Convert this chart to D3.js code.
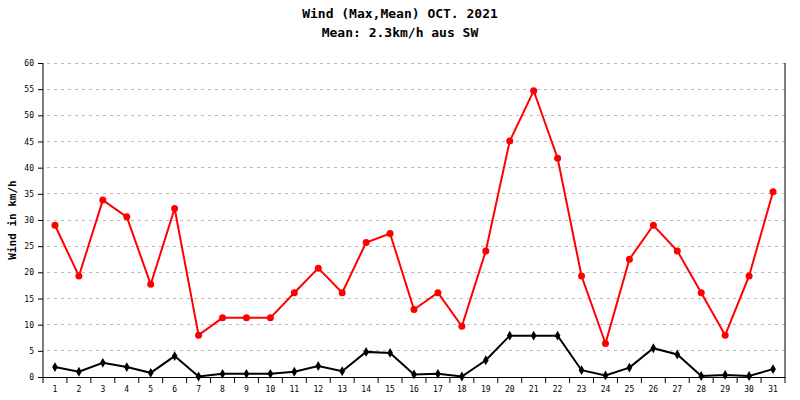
<!DOCTYPE html>
<html><head><meta charset="utf-8">
<script src="https://cdn.jsdelivr.net/npm/d3@7"></script>
<style>body{margin:0;background:#fff}svg{display:block}</style>
</head><body><svg id="c" width="800" height="400"></svg>
<script>
const days = d3.range(1, 32).map(String);
const maxWind = [29,19.3,33.8,30.6,17.7,32.2,8,11.3,11.3,11.3,16.1,20.8,16.1,25.7,27.4,12.9,16.1,9.7,24.1,45.1,54.7,41.8,19.3,6.4,22.5,29,24.1,16.1,8,19.3,35.4];
const meanWind = [1.9,1.0,2.7,1.9,0.8,4.0,0.1,0.6,0.6,0.6,1.0,2.1,1.1,4.8,4.6,0.5,0.6,0.1,3.2,7.9,7.9,7.9,1.3,0.3,1.8,5.5,4.3,0.2,0.4,0.2,1.5];
const yTicks = d3.range(0, 61, 5);

const svg = d3.select("#c");
const L = 43, R = 785, T = 63, B = 377;
const x = d3.scaleBand().domain(days).range([L, R]);
const y = d3.scaleLinear().domain([0, 60]).range([B, T]);
const font = "DejaVu Sans Mono, monospace";

svg.append("text").attr("x", 400).attr("y", 18).attr("text-anchor","middle")
  .attr("font-family", font).attr("font-size", 13).attr("font-weight","bold").text("Wind (Max,Mean) OCT. 2021");
svg.append("text").attr("x", 400).attr("y", 37).attr("text-anchor","middle")
  .attr("font-family", font).attr("font-size", 13).attr("font-weight","bold").text("Mean: 2.3km/h aus SW");

svg.append("g").selectAll("line").data(yTicks.filter(d=>d>0)).join("line")
  .attr("x1", L+4).attr("x2", R).attr("y1", d=>y(d)).attr("y2", d=>y(d))
  .attr("stroke","#bbb").attr("stroke-dasharray","3,4").attr("shape-rendering","crispEdges");

const ya = svg.append("g").attr("transform",`translate(${L},0)`)
  .call(d3.axisLeft(y).tickValues(yTicks).tickSize(5).tickPadding(4));
const xa = svg.append("g").attr("transform",`translate(0,${B})`)
  .call(d3.axisBottom(x).tickSize(0).tickPadding(9));
xa.selectAll(".tick").append("line").attr("x1", x.bandwidth()/2).attr("x2", x.bandwidth()/2)
  .attr("y1",0).attr("y2",6).attr("stroke","#000");
xa.append("line").attr("x1",L).attr("x2",L).attr("y1",0).attr("y2",6).attr("stroke","#000");
[ya, xa].forEach(g => { g.selectAll("text").attr("font-family", font).attr("font-size", 8).attr("fill","#000");
  g.select(".domain").attr("stroke","#000"); });
ya.select(".domain").attr("d", `M0,${B}V${T}`);
svg.append("line").attr("x1",R).attr("x2",R).attr("y1",T).attr("y2",B).attr("stroke","#000");

svg.append("text").attr("transform",`translate(16,${(T+B)/2}) rotate(-90)`).attr("text-anchor","middle")
  .attr("font-family", font).attr("font-size", 11).attr("font-weight","bold").text("Wind in km/h");

const cx = (d,i) => x(days[i]) + x.bandwidth()/2;
const line = d3.line().x(cx).y(d=>y(d));
svg.append("path").datum(maxWind).attr("d", line).attr("fill","none").attr("stroke","#f00").attr("stroke-width",2);
svg.append("g").selectAll("circle").data(maxWind).join("circle")
  .attr("cx", cx).attr("cy", d=>y(d)).attr("r", 3.5).attr("fill","#f00");
svg.append("path").datum(meanWind).attr("d", line).attr("fill","none").attr("stroke","#000").attr("stroke-width",2);
svg.append("g").selectAll("path.m").data(meanWind).join("path")
  .attr("d", d3.symbol(d3.symbolDiamond, 28)).attr("transform",(d,i)=>`translate(${cx(d,i)},${y(d)})`).attr("fill","#000");
</script></body></html>
